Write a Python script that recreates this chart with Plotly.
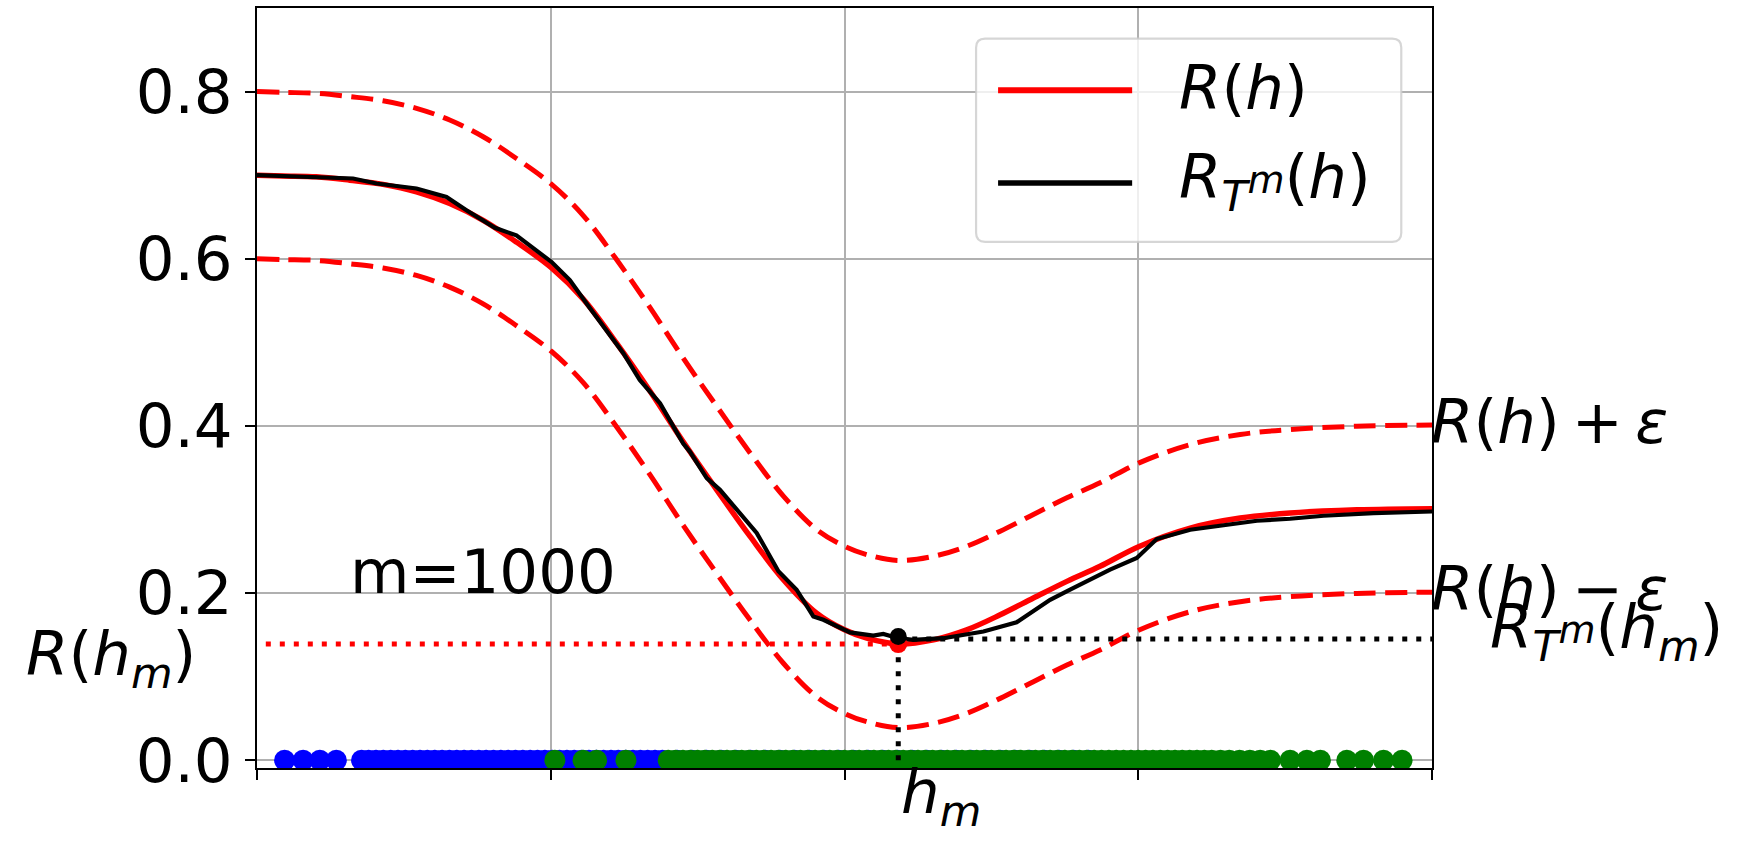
import plotly.graph_objects as go

# ---------------- data ----------------
h_true = [0.0, 0.0885, 0.202, 0.316, 0.429, 0.543, 0.656, 0.77, 0.883, 1.003, 1.11,
          1.224, 1.337, 1.451, 1.565, 1.678, 1.792, 1.905, 2.0, 2.076, 2.183,
          2.303, 2.416, 2.53, 2.643, 2.757, 2.87, 3.003, 3.177, 3.347, 3.517,
          3.744, 4.0]
R_true = [0.700, 0.699, 0.698, 0.694, 0.689, 0.680, 0.666, 0.646, 0.620, 0.589, 0.552,
          0.499, 0.442, 0.381, 0.3235, 0.268, 0.216, 0.176, 0.156, 0.146, 0.139,
          0.144, 0.156, 0.174, 0.194, 0.214, 0.232, 0.2558, 0.2777, 0.2897, 0.2957,
          0.2996, 0.301]

h_emp = [0.0, 0.111, 0.327, 0.407, 0.543, 0.645, 0.713, 0.810, 0.883, 1.003, 1.065,
         1.133, 1.178, 1.247, 1.303, 1.372, 1.451, 1.474, 1.531, 1.576, 1.701,
         1.775, 1.837, 1.894, 1.928, 2.019, 2.098, 2.132, 2.183, 2.234, 2.337,
         2.473, 2.586, 2.632, 2.700, 2.768, 2.836, 2.904, 2.995, 3.063, 3.177,
         3.290, 3.404, 3.517, 3.631, 3.801, 4.0]
R_emp = [0.700, 0.699, 0.696, 0.690, 0.684, 0.674, 0.658, 0.637, 0.628, 0.596, 0.5745,
         0.541, 0.519, 0.487, 0.455, 0.427, 0.379, 0.369, 0.3375, 0.3235, 0.272,
         0.226, 0.204, 0.172, 0.168, 0.153, 0.149, 0.151, 0.146, 0.144, 0.146,
         0.154, 0.165, 0.176, 0.192, 0.204, 0.216, 0.228, 0.242, 0.2646, 0.2757,
         0.2817, 0.2865, 0.2889, 0.2925, 0.2957, 0.2976]

eps = 0.1

h_m = 2.183
R_hm = 0.139
RT_hm = 0.145
dotted_start = 0.03

blue_x = [0.094, 0.157, 0.214, 0.270,
          0.356, 0.380, 0.405, 0.430, 0.455, 0.480, 0.505, 0.530, 0.555, 0.580,
          0.605, 0.630, 0.655, 0.680, 0.705, 0.730, 0.755, 0.780, 0.805, 0.830,
          0.855, 0.880, 0.905, 0.930, 0.955, 0.980, 1.005, 1.030, 1.055, 1.080,
          1.105, 1.130, 1.155, 1.180, 1.205, 1.230, 1.255, 1.280, 1.305, 1.330,
          1.355, 1.380, 1.430, 1.480, 1.530, 1.580, 1.630, 1.680, 1.730, 1.780,
          1.830, 1.880, 1.930, 1.980, 2.030, 2.080, 2.130, 2.180, 2.230, 2.280,
          2.330, 2.380, 2.430, 2.480, 2.530, 2.580, 2.630, 2.680, 2.730, 2.780,
          2.830]
green_x = [1.014, 1.110, 1.156, 1.256,
           1.400, 1.425, 1.450, 1.475, 1.500, 1.525, 1.550, 1.575, 1.600, 1.625,
           1.650, 1.675, 1.700, 1.725, 1.750, 1.775, 1.800, 1.825, 1.850, 1.875,
           1.900, 1.925, 1.950, 1.975, 2.000, 2.025, 2.050, 2.075, 2.100, 2.125,
           2.150, 2.175, 2.200, 2.225, 2.250, 2.275, 2.300, 2.325, 2.350, 2.375,
           2.400, 2.425, 2.450, 2.475, 2.500, 2.525, 2.550, 2.575, 2.600, 2.625,
           2.650, 2.675, 2.700, 2.725, 2.750, 2.775, 2.800, 2.825, 2.850, 2.875,
           2.900, 2.925, 2.950, 2.975, 3.000, 3.025, 3.050, 3.075, 3.100, 3.125,
           3.150, 3.175, 3.200, 3.225, 3.250, 3.280, 3.310, 3.345, 3.380, 3.415,
           3.450, 3.517, 3.574, 3.620, 3.710, 3.767, 3.835, 3.898]

y_ticks = [0.0, 0.2, 0.4, 0.6, 0.8]
x_ticks = [0, 1, 2, 3, 4]

# ---------------- layout geometry ----------------
FIG_W, FIG_H = 1742, 843
L, RR, T, B = 257.3, 1431.7, 7.6, 768.5
PW, PH = RR - L, B - T
FS = 61
FONT = "DejaVu Sans"


def px(xp):
    return (xp - L) / PW


def py(yp):
    return (B - yp) / PH


fig = go.Figure()

fig.add_trace(go.Scatter(x=h_true, y=R_true, mode="lines",
                         line=dict(color="red", width=5.5, shape="spline", smoothing=1.0),
                         name="R(h)", showlegend=False))
fig.add_trace(go.Scatter(x=h_emp, y=R_emp, mode="lines",
                         line=dict(color="black", width=4.2),
                         name="R_T^m(h)", showlegend=False))
dash_line = dict(color="red", width=5, dash="22px,9.5px", shape="spline", smoothing=1.0)
fig.add_trace(go.Scatter(x=h_true, y=[r + eps for r in R_true], mode="lines",
                         line=dash_line, name="R(h)+eps", showlegend=False))
fig.add_trace(go.Scatter(x=h_true, y=[r - eps for r in R_true], mode="lines",
                         line=dash_line, name="R(h)-eps", showlegend=False))
fig.add_trace(go.Scatter(x=blue_x, y=[0] * len(blue_x), mode="markers",
                         marker=dict(color="blue", size=21, line=dict(width=0)),
                         showlegend=False))
fig.add_trace(go.Scatter(x=green_x, y=[0] * len(green_x), mode="markers",
                         marker=dict(color="green", size=21, line=dict(width=0)),
                         showlegend=False))
# dotted guide lines
dot_red = dict(color="red", width=5, dash="5px,9px")
dot_blk = dict(color="black", width=5, dash="5px,9px")
fig.add_trace(go.Scatter(x=[dotted_start, h_m], y=[R_hm, R_hm], mode="lines",
                         line=dot_red, showlegend=False))
fig.add_trace(go.Scatter(x=[h_m, 4], y=[RT_hm, RT_hm], mode="lines",
                         line=dot_blk, showlegend=False))
fig.add_trace(go.Scatter(x=[h_m, h_m], y=[0, R_hm], mode="lines",
                         line=dot_blk, showlegend=False))
fig.add_trace(go.Scatter(x=[h_m], y=[R_hm], mode="markers",
                         marker=dict(color="red", size=18, line=dict(width=0)),
                         showlegend=False))
fig.add_trace(go.Scatter(x=[h_m], y=[RT_hm + 0.003], mode="markers",
                         marker=dict(color="black", size=17, line=dict(width=0)),
                         showlegend=False))

# ---------------- annotations ----------------
font = dict(family=FONT, size=FS, color="black")
RT = ("<i>R</i><sub><i>T</i><sup><span style='font-size:38px'><i>m</i></span>"
      "</sup></sub>")
anns = [
    dict(text="m=1000", x=px(348), y=py(572), xanchor="left", yanchor="middle"),
    dict(text="<i>R</i>(<i>h</i>)\u2009+\u2009<i>ε</i>", x=px(1429), y=py(422),
         xanchor="left", yanchor="middle"),
    dict(text="<i>R</i>(<i>h</i>)\u2009\u2212\u2009<i>ε</i>", x=px(1429), y=py(589),
         xanchor="left", yanchor="middle"),
    dict(text=RT + "(<i>h</i><sub><i>m</i></sub>)",
         x=px(1488), y=py(631), xanchor="left", yanchor="middle"),
    dict(text="<i>R</i>(<i>h</i><sub><i>m</i></sub>)", x=px(198), y=py(658),
         xanchor="right", yanchor="middle"),
    dict(text="<i>h</i><sub><i>m</i></sub>", x=px(899), y=py(797),
         xanchor="left", yanchor="middle"),
    # legend labels
    dict(text="<i>R</i>(<i>h</i>)", x=px(1177), y=py(87),
         xanchor="left", yanchor="middle"),
    dict(text=RT + "(<i>h</i>)", x=px(1177), y=py(181),
         xanchor="left", yanchor="middle"),
]
for a in anns:
    fig.add_annotation(xref="paper", yref="paper", showarrow=False, font=font, **a)

# ---------------- legend box (drawn by hand) ----------------
lx0, lx1, ly0, ly1, rad = 976, 1401, 38.3, 241.7, 9
rx, ry = rad / PW, rad / PH
X0, X1, Y0, Y1 = px(lx0), px(lx1), py(ly1), py(ly0)
path = (f"M{X0 + rx},{Y0} L{X1 - rx},{Y0} Q{X1},{Y0} {X1},{Y0 + ry} "
        f"L{X1},{Y1 - ry} Q{X1},{Y1} {X1 - rx},{Y1} L{X0 + rx},{Y1} "
        f"Q{X0},{Y1} {X0},{Y1 - ry} L{X0},{Y0 + ry} Q{X0},{Y0} {X0 + rx},{Y0} Z")
fig.add_shape(type="path", path=path, xref="paper", yref="paper", layer="above",
              fillcolor="rgba(255,255,255,0.8)",
              line=dict(color="rgba(204,204,204,0.8)", width=2.2))
fig.add_shape(type="line", xref="paper", yref="paper", layer="above",
              x0=px(998), x1=px(1132), y0=py(90), y1=py(90),
              line=dict(color="red", width=6))
fig.add_shape(type="line", xref="paper", yref="paper", layer="above",
              x0=px(998), x1=px(1132), y0=py(182.7), y1=py(182.7),
              line=dict(color="black", width=5.5))

fig.update_layout(
    template="none",
    width=FIG_W, height=FIG_H,
    margin=dict(l=L, r=FIG_W - RR, t=T, b=FIG_H - B, pad=0),
    paper_bgcolor="white", plot_bgcolor="white",
    showlegend=False,
    font=dict(family=FONT, size=FS, color="black"),
)
fig.update_xaxes(range=[0, 4], tickvals=x_ticks, showticklabels=False,
                 ticks="outside", ticklen=10, tickwidth=2.2, tickcolor="black",
                 showgrid=True, gridcolor="#b0b0b0", gridwidth=2.2,
                 showline=True, linecolor="black", linewidth=2.2, mirror=True,
                 zeroline=False)
fig.update_yaxes(range=[-0.0093, 0.9], tickvals=y_ticks,
                 ticktext=[f"{v:.1f}" for v in y_ticks],
                 ticks="outside", ticklen=10, tickwidth=2.2, tickcolor="black",
                 tickfont=dict(family=FONT, size=FS, color="black"),
                 showgrid=True, gridcolor="#b0b0b0", gridwidth=2.2,
                 showline=True, linecolor="black", linewidth=2.2, mirror=True,
                 zeroline=False)

fig.write_html("out.html", config={"displayModeBar": False},
               post_script="document.body.style.margin='0';document.body.style.overflow='hidden';")
